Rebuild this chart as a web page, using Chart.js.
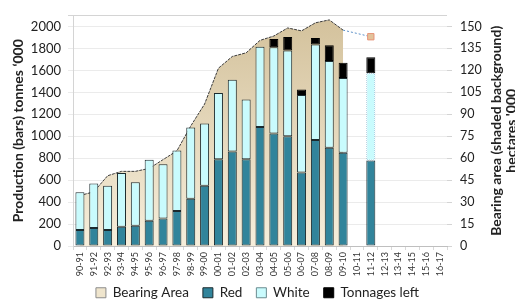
<!DOCTYPE html>
<html>
<head>
<meta charset="utf-8">
<script src="https://cdn.jsdelivr.net/npm/chart.js@4"></script>
<style>
  html, body { margin: 0; padding: 0; background: #fff; }
</style>
</head>
<body>
<canvas id="prodChart" width="515" height="304"></canvas>
<script>
// seasons on the x axis
const seasons = ['90-91', '91-92', '92-93', '93-94', '94-95', '95-96', '96-97', '97-98', '98-99', '99-00',
    '00-01', '01-02', '02-03', '03-04', '04-05', '05-06', '06-07', '07-08', '08-09', '09-10',
    '10-11', '11-12', '12-13', '13-14', '14-15', '15-16', '16-17'];

// production, tonnes '000 (bars)
const redTonnes = [145, 165, 145, 175, 185, 230, 250, 320, 430, 550,
    790, 860, 790, 1085, 1025, 1000, 670, 965, 895, 850,
    null, 780, null, null, null, null, null];
const whiteTonnes = [345, 405, 405, 490, 395, 555, 495, 550, 650, 565,
    605, 655, 545, 730, 785, 780, 705, 870, 790, 680,
    null, 795, null, null, null, null, null];
const tonnagesLeft = [null, null, null, null, null, null, null, null, null, null,
    null, null, null, null, 75, 125, 50, 60, 145, 140,
    null, 145, null, null, null, null, null];

// bearing area, hectares '000 (shaded background)
const bearingArea = [34.5, 37, 48, 51, 51, 53, 59, 65, 82, 97,
    121.5, 129.5, 132, 140.5, 143.5, 149, 147, 152.5, 154.5, 147.5,
    null, null, null, null, null, null, null];
// dotted link from the last season to the 11-12 estimate
const bearingEstimate = [null, null, null, null, null, null, null, null, null, null,
    null, null, null, null, null, null, null, null, null, 147.5,
    null, 143, null, null, null, null, null];

// axis ticks
const prodTicks = [0, 200, 400, 600, 800, 1000, 1200, 1400, 1600, 1800, 2000];
const areaTicks = [0, 15, 30, 45, 60, 75, 90, 105, 120, 135, 150];
const prodTop = 2100;
const areaTop = prodTop * 150 / 2000;

const estimateSeason = '11-12';
const FONT = 'Lato, "Open Sans", sans-serif';

// dotted border for the estimate bar
const dotCanvas = document.createElement('canvas');
dotCanvas.width = 2; dotCanvas.height = 2;
const dctx = dotCanvas.getContext('2d');
dctx.fillStyle = '#6fa8c8';
dctx.fillRect(0, 0, 1, 1);
dctx.fillRect(1, 1, 1, 1);
const ctx = document.getElementById('prodChart').getContext('2d');
const dotted = ctx.createPattern(dotCanvas, 'repeat');

function areaGradient(context) {
    const area = context.chart.chartArea;
    if (!area) return '#e6d8b9';
    const g = context.chart.ctx.createLinearGradient(0, area.top, 0, area.bottom);
    g.addColorStop(0, '#d3c19b');
    g.addColorStop(1, '#f6eedb');
    return g;
}

// right hand title reads bottom to top, like the left one
const rightTitle = {
    id: 'rightTitle',
    afterDraw(chart) {
        const c = chart.ctx;
        const cy = (chart.chartArea.top + chart.chartArea.bottom) / 2;
        c.save();
        c.font = 'bold 14px ' + FONT;
        c.fillStyle = '#222';
        c.textAlign = 'center';
        c.textBaseline = 'middle';
        c.translate(chart.width - 19, cy);
        c.rotate(-Math.PI / 2);
        c.fillText('Bearing area (shaded background)', 0, 0);
        c.fillText("hectares '000", 0, 15);
        c.restore();
    }
};

const prodChart = new Chart(ctx, {
    data: {
        labels: seasons,
        datasets: [{
            type: 'line',
            label: 'Bearing Area',
            data: bearingArea,
            yAxisID: 'y1',
            order: 10,
            fill: 'origin',
            backgroundColor: areaGradient,
            borderColor: '#3c3c3c',
            borderWidth: 1,
            borderDash: [3, 1],
            pointRadius: 0,
            tension: 0
        }, {
            type: 'bar',
            label: 'Red',
            data: redTonnes,
            backgroundColor: '#31849b',
            borderColor: '#1b2a2e',
            borderWidth: 1,
            borderSkipped: false
        }, {
            type: 'bar',
            label: 'White',
            data: whiteTonnes,
            backgroundColor: '#c9fbfd',
            borderColor: c => seasons[c.dataIndex] === estimateSeason ? dotted : '#1b2a2e',
            borderWidth: 1,
            borderSkipped: false
        }, {
            type: 'bar',
            label: 'Tonnages left',
            data: tonnagesLeft,
            backgroundColor: '#000000',
            borderColor: '#000000',
            borderWidth: 1,
            borderSkipped: false
        }, {
            type: 'line',
            label: '',
            data: bearingEstimate,
            yAxisID: 'y1',
            order: -1,
            spanGaps: true,
            borderColor: '#5b8fc7',
            borderWidth: 1,
            borderDash: [2, 2],
            pointStyle: 'rect',
            pointRadius: c => seasons[c.dataIndex] === estimateSeason ? 4.5 : 0,
            pointBackgroundColor: '#e2c39b',
            pointBorderColor: '#e8957a',
            pointBorderWidth: 1
        }]
    },
    options: {
        responsive: false,
        animation: false,
        layout: { padding: { top: 0, left: 0, right: 0, bottom: 0 } },
        datasets: {
            bar: { categoryPercentage: 1, barPercentage: 0.65 }
        },
        scales: {
            x: {
                stacked: true,
                grid: { drawOnChartArea: false, tickLength: 4, color: '#d9d9d9' },
                border: { color: '#bfbfbf' },
                ticks: {
                    autoSkip: false, maxRotation: 90, minRotation: 90,
                    padding: 2, color: '#333', font: { family: FONT, size: 9 }
                },
                afterFit: s => {
                    s.height = 26;
                    // labels run down past the axis box, into the legend gap
                    s._computeLabelArea = () => undefined;
                }
            },
            y: {
                stacked: true,
                min: 0,
                max: prodTop,
                afterBuildTicks: s => { s.ticks = prodTicks.concat([prodTop]).map(v => ({ value: v })); },
                grid: {
                    color: c => c.tick && c.tick.value === prodTop ? '#d4d4d4' : '#ebebeb',
                    tickLength: 5
                },
                border: { color: '#d4d4d4' },
                ticks: {
                    padding: 7, color: '#222',
                    font: { family: FONT, size: 13 },
                    callback: v => v > prodTicks[prodTicks.length - 1] ? '' : v
                },
                title: {
                    display: true,
                    text: 'Production (bars) tonnes \u2018000',
                    color: '#222',
                    font: { family: FONT, size: 14, weight: 'bold' },
                    padding: { top: 10, bottom: 0 }
                },
                afterFit: s => { s.width = 73; }
            },
            y1: {
                position: 'right',
                min: 0,
                max: areaTop,
                afterBuildTicks: s => { s.ticks = areaTicks.map(v => ({ value: v })); },
                grid: { drawOnChartArea: false, tickLength: 5, color: '#d4d4d4' },
                border: { display: false },
                ticks: { padding: 8, color: '#222', font: { family: FONT, size: 12.5 } },
                afterFit: s => { s.width = 68; }
            }
        },
        plugins: {
            tooltip: { enabled: false },
            legend: {
                position: 'bottom',
                maxHeight: 32,
                labels: {
                    boxWidth: 10,
                    boxHeight: 10,
                    padding: 14,
                    color: '#222',
                    font: { family: FONT, size: 13.5 },
                    filter: item => item.text !== '',
                    sort: (a, b) => a.datasetIndex - b.datasetIndex,
                    generateLabels(chart) {
                        const items = Chart.defaults.plugins.legend.labels.generateLabels(chart);
                        items.forEach(it => {
                            it.lineDash = [];
                            it.lineWidth = 1;
                            if (it.text === 'Bearing Area') { it.fillStyle = '#efe5cd'; it.strokeStyle = '#8c8c8c'; }
                            if (it.text === 'White') { it.strokeStyle = '#6a8c90'; }
                        });
                        return items;
                    }
                }
            }
        }
    },
    plugins: [rightTitle]
});
</script>
</body>
</html>
